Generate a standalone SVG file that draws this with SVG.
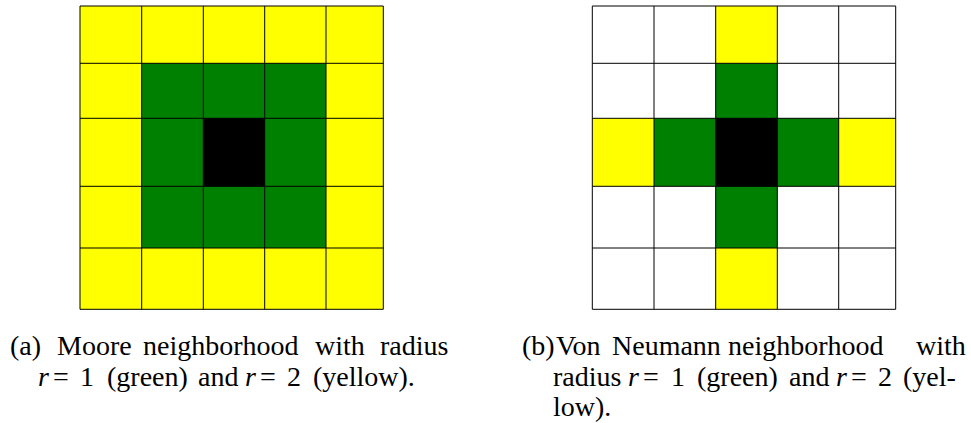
<svg xmlns="http://www.w3.org/2000/svg" width="971" height="423" viewBox="0 0 971 423">
<rect x="0" y="0" width="971" height="423" fill="#ffffff"/>
<g id="moore">
<rect fill="#ffff00" x="80" y="6" width="303.3" height="303.3"/>
<rect fill="#008000" x="141.7" y="63.3" width="184.3" height="184.7"/>
<rect fill="#000000" x="203.3" y="118.3" width="61.4" height="68"/>
<path stroke="#000" stroke-width="1" fill="none" d="M80,6V309.3M141.7,6V309.3M203.3,6V309.3M264.7,6V309.3M326,6V309.3M383.3,6V309.3M80,6H383.3M80,63.3H383.3M80,118.3H383.3M80,186.3H383.3M80,248H383.3M80,309.3H383.3"/>
</g>
<g id="vonneumann">
<rect fill="#ffffff" x="592.3" y="6" width="303.4" height="303.3"/>
<g fill="#ffff00">
<rect x="715.7" y="6" width="61.6" height="57.3"/>
<rect x="715.7" y="248" width="61.6" height="61.3"/>
<rect x="592.3" y="118.3" width="61.7" height="68"/>
<rect x="838.7" y="118.3" width="57" height="68"/>
</g>
<g fill="#008000">
<rect x="715.7" y="63.3" width="61.6" height="184.7"/>
<rect x="654" y="118.3" width="184.7" height="68"/>
</g>
<rect fill="#000000" x="715.7" y="118.3" width="61.6" height="68"/>
<path stroke="#000" stroke-width="1" fill="none" d="M592.3,6V309.3M654,6V309.3M715.7,6V309.3M777.3,6V309.3M838.7,6V309.3M895.7,6V309.3M592.3,6H895.7M592.3,63.3H895.7M592.3,118.3H895.7M592.3,186.3H895.7M592.3,248H895.7M592.3,309.3H895.7"/>
</g>
<g id="caption-a">
<text x="10" y="354.5" font-family="Liberation Serif" font-size="28">(a)</text>
<text x="57" y="354.5" font-family="Liberation Serif" font-size="28">Moore</text>
<text x="143" y="354.5" font-family="Liberation Serif" font-size="28">neighborhood</text>
<text x="315" y="354.5" font-family="Liberation Serif" font-size="28">with</text>
<text x="380" y="354.5" font-family="Liberation Serif" font-size="28">radius</text>
<text x="38" y="385.5" font-family="Liberation Serif" font-size="28" font-style="italic">r</text>
<text x="53" y="385.5" font-family="Liberation Serif" font-size="28">=</text>
<text x="80" y="385.5" font-family="Liberation Serif" font-size="28">1</text>
<text x="107" y="385.5" font-family="Liberation Serif" font-size="28">(green)</text>
<text x="198" y="385.5" font-family="Liberation Serif" font-size="28">and</text>
<text x="245" y="385.5" font-family="Liberation Serif" font-size="28" font-style="italic">r</text>
<text x="260" y="385.5" font-family="Liberation Serif" font-size="28">=</text>
<text x="287" y="385.5" font-family="Liberation Serif" font-size="28">2</text>
<text x="313" y="385.5" font-family="Liberation Serif" font-size="28">(yellow).</text>
</g>
<g id="caption-b">
<text x="522" y="355" font-family="Liberation Serif" font-size="28">(b)</text>
<text x="556" y="355" font-family="Liberation Serif" font-size="28">Von</text>
<text x="612" y="355" font-family="Liberation Serif" font-size="28">Neumann</text>
<text x="728" y="355" font-family="Liberation Serif" font-size="28">neighborhood</text>
<text x="916" y="355" font-family="Liberation Serif" font-size="28">with</text>
<text x="553" y="385.5" font-family="Liberation Serif" font-size="28">radius</text>
<text x="628" y="385.5" font-family="Liberation Serif" font-size="28" font-style="italic">r</text>
<text x="643" y="385.5" font-family="Liberation Serif" font-size="28">=</text>
<text x="671" y="385.5" font-family="Liberation Serif" font-size="28">1</text>
<text x="697" y="385.5" font-family="Liberation Serif" font-size="28">(green)</text>
<text x="789" y="385.5" font-family="Liberation Serif" font-size="28">and</text>
<text x="836" y="385.5" font-family="Liberation Serif" font-size="28" font-style="italic">r</text>
<text x="851" y="385.5" font-family="Liberation Serif" font-size="28">=</text>
<text x="878" y="385.5" font-family="Liberation Serif" font-size="28">2</text>
<text x="903" y="385.5" font-family="Liberation Serif" font-size="28">(yel-</text>
<text x="553" y="416" font-family="Liberation Serif" font-size="28">low).</text>
</g>
</svg>
